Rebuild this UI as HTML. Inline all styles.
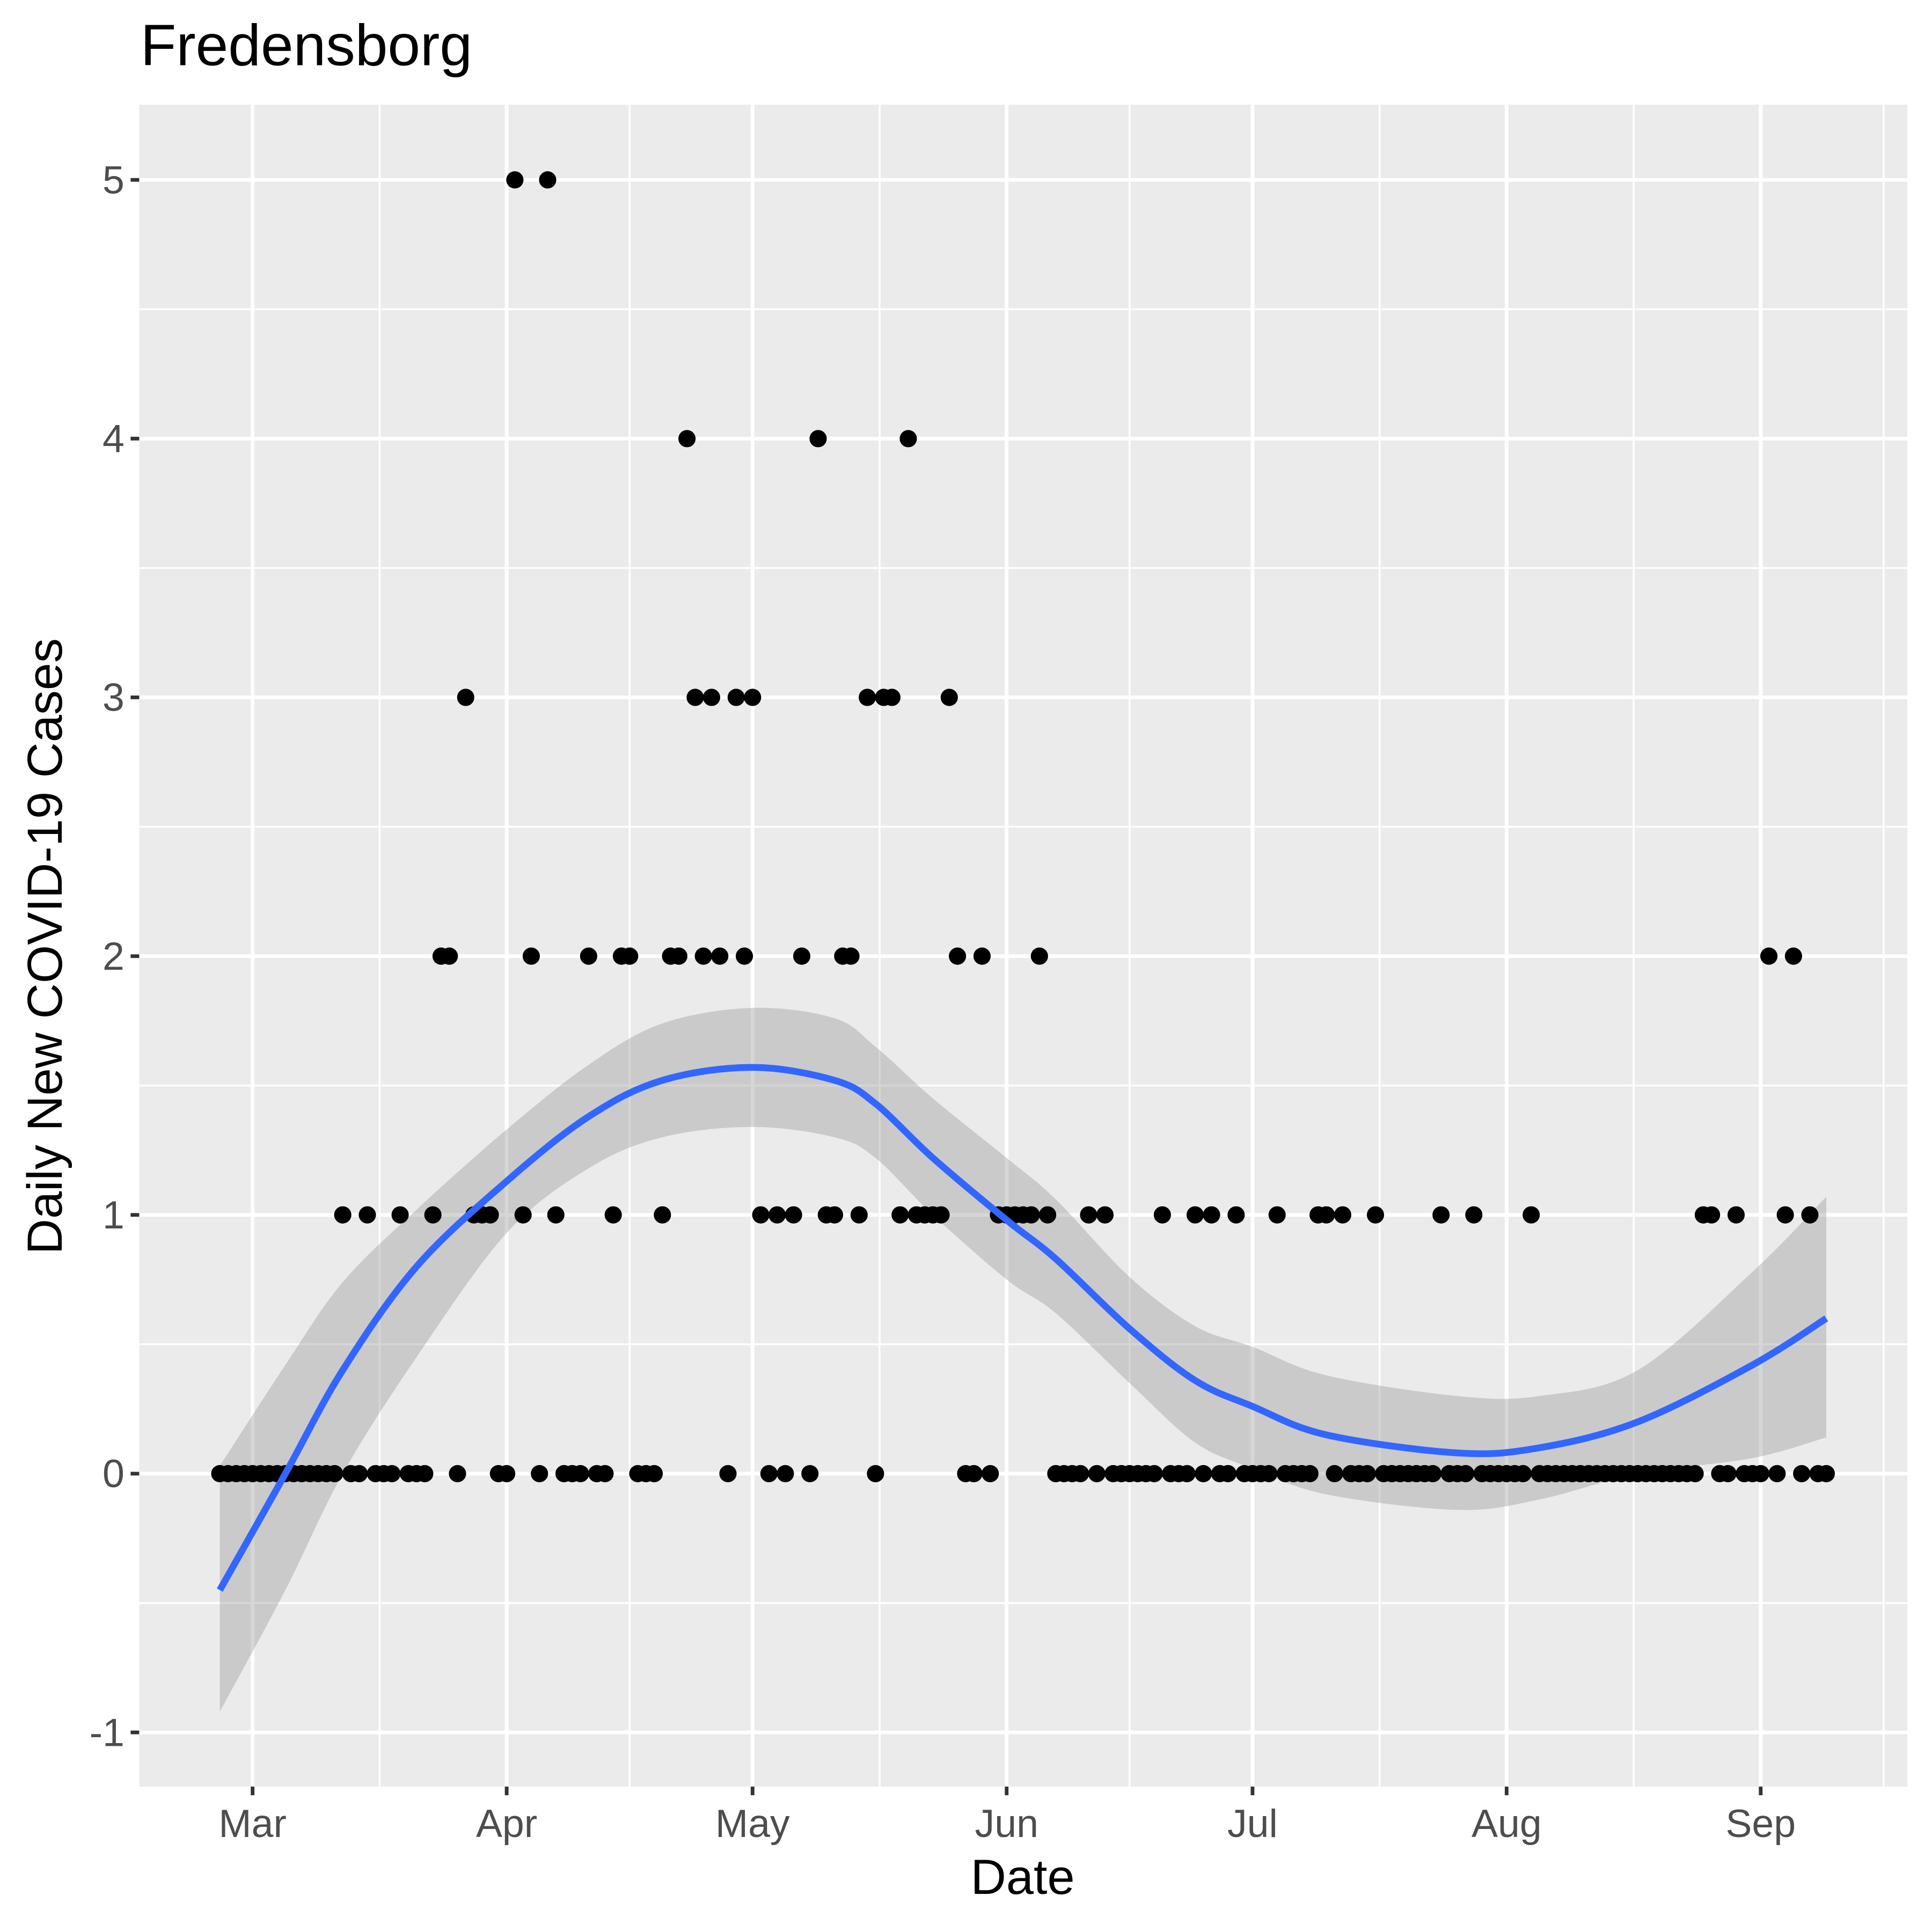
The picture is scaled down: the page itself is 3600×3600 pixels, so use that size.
<!DOCTYPE html>
<html><head><meta charset="utf-8"><style>html,body{margin:0;padding:0;background:#fff}svg{display:block}</style></head>
<body>
<svg id="chart" width="3600" height="3600" viewBox="0 0 1568 1568" xmlns="http://www.w3.org/2000/svg" font-family="'Liberation Sans', Arial, sans-serif">
<rect width="1568" height="1568" fill="#fff"/>
<text x="114" y="53" font-size="47.5" fill="#000">Fredensborg</text>
<rect x="113" y="85" width="1435" height="1365" fill="#ebebeb"/>
<g id="grid"></g>
<g id="band"></g>
<g id="pts"></g>
<g id="line"></g>
<g id="axes"></g>
<text x="830" y="1537" font-size="40" text-anchor="middle" fill="#000">Date</text>
<text transform="translate(50,768) rotate(-90)" font-size="40" text-anchor="middle" fill="#000">Daily New COVID-19 Cases</text>
</svg>
<script>
const monthLabels=["Mar","Apr","May","Jun","Jul","Aug","Sep"];
const monthDays=[0,31,61,92,122,153,184];
const yTicks=[-1,0,1,2,3,4,5];
const firstDay=-4, lastDay=192;
const nonzeroDays=[32,36,53,69,80,26,54,56,59,61,75,77,78,85,23,24,34,41,45,46,51,52,55,57,60,67,72,73,86,89,96,185,188,11,14,18,22,27,28,29,33,37,44,50,62,64,66,70,71,74,79,81,82,83,84,91,92,93,94,95,97,102,104,111,115,117,120,125,130,131,133,137,145,149,156,177,178,181,187,190];
const nonzeroVals=[5,5,4,4,4,3,3,3,3,3,3,3,3,3,2,2,2,2,2,2,2,2,2,2,2,2,2,2,2,2,2,2,2,1,1,1,1,1,1,1,1,1,1,1,1,1,1,1,1,1,1,1,1,1,1,1,1,1,1,1,1,1,1,1,1,1,1,1,1,1,1,1,1,1,1,1,1,1,1,1];
const fitDays=[-4,4,11,20,31,41,50,61,71,76,83,92,98,107,115,122,131,147,157,169,183,192];
const fitVals=[-0.45,0.0,0.4,0.8,1.13,1.38,1.52,1.57,1.52,1.43,1.22,0.98,0.83,0.56,0.36,0.26,0.15,0.08,0.1,0.2,0.42,0.6];
const fitLo=[-0.92,-0.45,0.0,0.45,0.93,1.18,1.3,1.34,1.3,1.22,1.0,0.75,0.62,0.35,0.12,0.02,-0.08,-0.14,-0.1,0.0,0.06,0.14];
const fitHi=[0.03,0.42,0.74,1.02,1.33,1.58,1.74,1.8,1.76,1.65,1.45,1.22,1.06,0.76,0.57,0.49,0.38,0.3,0.3,0.4,0.78,1.07];
const NS="http://www.w3.org/2000/svg";
const X=d=>205+d*6.652, Y=v=>1196-v*210;
function mk(tag,attrs,parent){const e=document.createElementNS(NS,tag);for(const k in attrs)e.setAttribute(k,attrs[k]);parent.appendChild(e);return e;}
const grid=document.getElementById('grid'),axes=document.getElementById('axes');
for(let i=0;i<yTicks.length-1;i++){const y=Y((yTicks[i]+yTicks[i+1])/2);const l=mk('line',{x1:113,x2:1548,y1:y,y2:y,stroke:'#fff','stroke-width':1.5},grid);

}
const mids=[-14.5].concat(monthDays.slice(0,-1).map((d,i)=>(d+monthDays[i+1])/2)).concat([199]);
mids.forEach(d=>{const l=mk('line',{x1:X(d),x2:X(d),y1:85,y2:1450,stroke:'#fff','stroke-width':1.5},grid);

});
yTicks.forEach(v=>{const y=Y(v);const l=mk('line',{x1:113,x2:1548,y1:y,y2:y,stroke:'#fff','stroke-width':3},grid);


const t=mk('line',{x1:106,x2:113,y1:y,y2:y,stroke:'#333','stroke-width':3},axes);


const tx=mk('text',{x:101,y:y+11,'font-size':32,'text-anchor':'end',fill:'#4d4d4d'},axes);tx.textContent=v;

});
monthDays.forEach((d,i)=>{const x=X(d);const l=mk('line',{x1:x,x2:x,y1:85,y2:1450,stroke:'#fff','stroke-width':3},grid);


const t=mk('line',{x1:x,x2:x,y1:1450,y2:1457,stroke:'#333','stroke-width':3},axes);


const tx=mk('text',{x:x,y:1491,'font-size':32,'text-anchor':'middle',fill:'#4d4d4d'},axes);tx.textContent=monthLabels[i];

});
const pts=document.getElementById('pts');
for(let d=firstDay;d<=lastDay;d++){const k=nonzeroDays.indexOf(d);const v=k>=0?nonzeroVals[k]:0;
const c=mk('circle',{cx:X(d),cy:Y(v),r:7,fill:'#000'},pts);

}
function smooth(pts){let s='M'+pts[0][0]+','+pts[0][1];for(let i=0;i<pts.length-1;i++){const p0=pts[Math.max(i-1,0)],p1=pts[i],p2=pts[i+1],p3=pts[Math.min(i+2,pts.length-1)];
s+=' C'+(p1[0]+(p2[0]-p0[0])/6)+','+(p1[1]+(p2[1]-p0[1])/6)+' '+(p2[0]-(p3[0]-p1[0])/6)+','+(p2[1]-(p3[1]-p1[1])/6)+' '+p2[0]+','+p2[1];}return s;}
const hi=fitDays.map((d,i)=>[X(d),Y(fitHi[i])]);const lo=fitDays.map((d,i)=>[X(d),Y(fitLo[i])]).reverse();
const band=mk('path',{d:smooth(hi)+' L'+smooth(lo).slice(1)+' Z',fill:'#999','fill-opacity':0.4},document.getElementById('band'));


const ln=mk('path',{d:smooth(fitDays.map((d,i)=>[X(d),Y(fitVals[i])])),fill:'none',stroke:'#3366ff','stroke-width':5.5},document.getElementById('line'));


</script>
</body></html>
